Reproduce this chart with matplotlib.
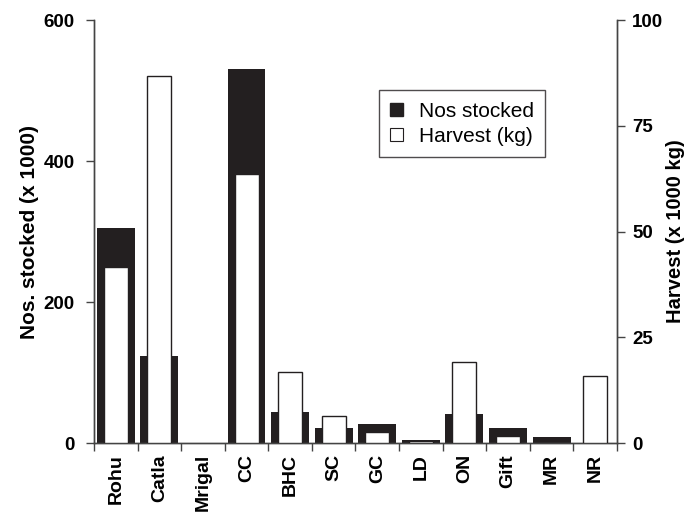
import numpy as np
import matplotlib
matplotlib.use("Agg")
import matplotlib.pyplot as plt
from matplotlib.patches import Patch

plt.rcParams["font.family"] = ["Liberation Sans", "DejaVu Sans"]

species = ["Rohu", "Catla", "Mrigal", "CC", "BHC", "SC", "GC", "LD", "ON", "Gift", "MR", "NR"]
stocked = [305, 123, 0, 530, 44, 21, 27, 4, 41, 21, 8.5, 0]          # x 1000
harvest = [41.6, 86.8, 0, 63.6, 16.8, 6.4, 2.6, 0.5, 19.1, 1.7, 0, 15.8]  # x 1000 kg

INK = "#231f20"
x = np.arange(len(species))

fig = plt.figure(figsize=(6.93, 5.17), dpi=100)
ax = fig.add_axes([0.1356, 0.1431, 0.7547, 0.8182])
ax2 = ax.twinx()

ax.bar(x, stocked, width=0.87, color=INK, edgecolor="none", zorder=2)
# zero-harvest species get no outline at all
edge_w = [1.0 if h > 0 else 0 for h in harvest]
ax2.bar(x, harvest, width=0.55, color="white", edgecolor=INK, linewidth=edge_w, zorder=3)

ax.set_xlim(-0.5, len(species) - 0.5)
ax.set_ylim(0, 600)
ax2.set_ylim(0, 100)
ax.set_yticks([0, 200, 400, 600])
ax2.set_yticks([0, 25, 50, 75, 100])

ax.set_xticks(x)
ax.set_xticklabels(species, rotation=90, fontweight="bold", fontsize=14)
ax.set_xticks(np.arange(-0.5, len(species)), minor=True)
ax.tick_params(axis="x", which="major", length=0, pad=8)
ax.tick_params(axis="x", which="minor", length=6, width=1, color="#444444", direction="out")

for a, p in ((ax, 8), (ax2, 5)):
    a.spines["top"].set_visible(False)
    for s in ("left", "right", "bottom"):
        a.spines[s].set_linewidth(1.0)
        a.spines[s].set_color("#444444")
    a.tick_params(axis="y", length=6, width=1, color="#444444", labelsize=13.5, pad=p)
    for lab in a.get_yticklabels():
        lab.set_fontweight("bold")

ax.set_ylabel("Nos. stocked (x 1000)", fontsize=15, fontweight="bold", labelpad=3)
ax2.set_ylabel("Harvest (x 1000 kg)", fontsize=14.5, fontweight="bold", labelpad=2)

handles = [Patch(facecolor=INK, edgecolor=INK, label="Nos stocked"),
           Patch(facecolor="white", edgecolor=INK, linewidth=0.8, label="Harvest (kg)")]
leg = ax2.legend(handles=handles, loc="upper left", bbox_to_anchor=(0.545, 0.834),
                 fontsize=15, frameon=True, fancybox=False, edgecolor=INK,
                 handlelength=0.6, handleheight=0.6, handletextpad=0.75,
                 borderpad=0.55, labelspacing=0.3, borderaxespad=0)
leg.get_frame().set_linewidth(1.0)

fig.savefig("out.png", dpi=100, facecolor="white")
